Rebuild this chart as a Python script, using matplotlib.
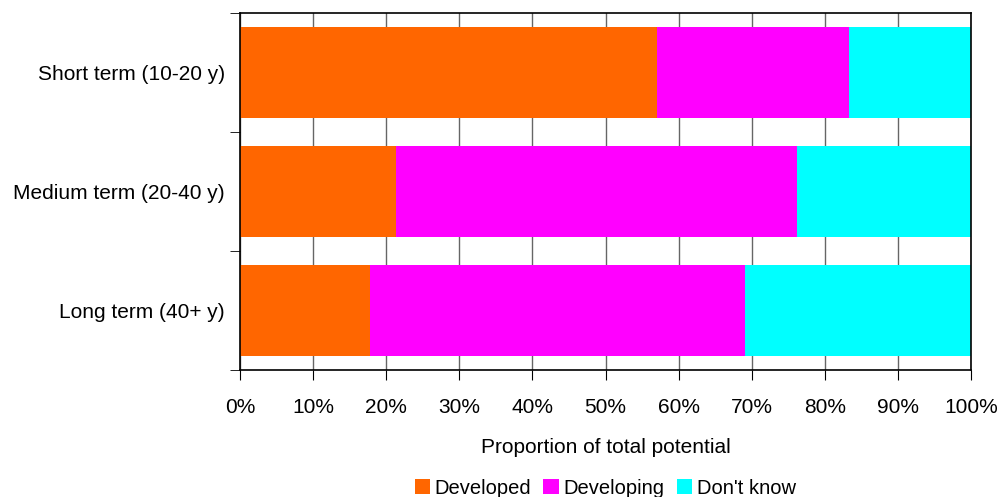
import matplotlib
matplotlib.use("Agg")
import matplotlib.pyplot as plt
import numpy as np

plt.rcParams["font.family"] = ["Liberation Sans", "DejaVu Sans"]

categories = ["Short term (10-20 y)", "Medium term (20-40 y)", "Long term (40+ y)"]
developed = [57.1, 21.3, 17.8]
developing = [26.2, 54.9, 51.3]
dont_know = [16.7, 23.8, 30.9]
series_names = ["Developed", "Developing", "Don't know"]
colors = ["#ff6600", "#ff00ff", "#00ffff"]

fig = plt.figure(figsize=(10.02, 4.97), dpi=100)
ax = fig.add_axes([240 / 1002, 1 - 370 / 497, 731 / 1002, 357 / 497])

y = np.arange(len(categories))
left = np.zeros(len(categories))
handles = []
for vals, name, c in zip([developed, developing, dont_know], series_names, colors):
    h = ax.barh(y, vals, left=left, height=0.76, color=c, label=name, zorder=2)
    handles.append(h)
    left += np.array(vals)

ax.set_xlim(0, 100)
ax.set_ylim(2.5, -0.5)
ax.set_xticks(np.arange(0, 101, 10))
ax.set_xticklabels([f"{v}%" for v in range(0, 101, 10)], fontsize=15)
ax.set_yticks(y)
ax.set_yticklabels(categories, fontsize=15)
ax.set_yticks(np.arange(-0.5, 3, 1), minor=True)
ax.tick_params(axis="y", which="major", length=0, pad=11)
ax.tick_params(axis="y", which="minor", length=7, direction="out")
ax.tick_params(axis="x", length=7, direction="out", pad=13)
ax.grid(True, axis="x", color="#666666", linewidth=1, zorder=0)
ax.set_axisbelow(True)
for s in ax.spines.values():
    s.set_color("black")
    s.set_linewidth(1.2)

ax.set_xlabel("Proportion of total potential", fontsize=15, labelpad=15)

fig.legend(handles=handles, labels=series_names, loc="center",
           bbox_to_anchor=(0.604, 0.018), ncol=3, frameon=False, fontsize=14.5,
           handlelength=0.75, handleheight=0.75, handletextpad=0.25,
           columnspacing=0.6)

fig.savefig("out.png", dpi=100)
